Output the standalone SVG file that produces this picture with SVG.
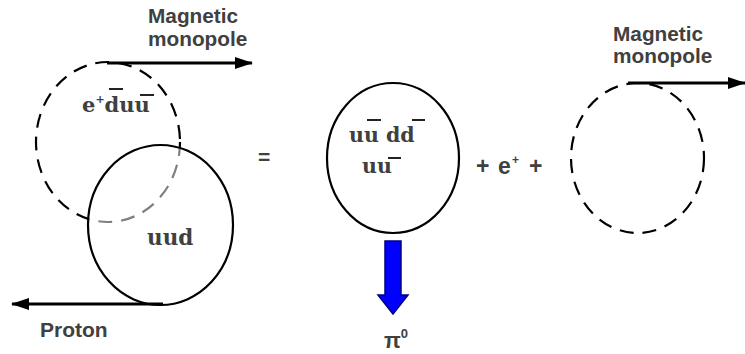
<svg xmlns="http://www.w3.org/2000/svg" width="745" height="354" viewBox="0 0 745 354">
<style>
.sans{font-family:"Liberation Sans",Arial,sans-serif;font-weight:bold;fill:#404040}
.serif{font-family:"DejaVu Serif","Liberation Serif",serif;font-weight:bold;fill:#404040}
.dash{fill:none;stroke:#000;stroke-width:2.2;stroke-dasharray:14 9}
.solid{stroke:#000;stroke-width:2.2}
.bar{stroke:#222;stroke-width:2}
.conn{stroke:#000;stroke-width:3;fill:none}
</style>
<defs>
<marker id="ah" markerUnits="userSpaceOnUse" viewBox="0 0 18 12" refX="17" refY="6" markerWidth="18" markerHeight="12" orient="auto">
<path d="M0,0 L18,6 L0,12 Z" fill="#000"/>
</marker>
</defs>
<rect width="745" height="354" fill="#fff"/>

<g id="monopole-left">
<ellipse class="dash" cx="108" cy="142" rx="72" ry="80"/>
<text class="sans" x="148" y="23" font-size="20.8">Magnetic</text>
<text class="sans" x="148" y="46" font-size="20.8">monopole</text>
<text class="serif" x="82" y="112" font-size="21">e<tspan font-size="11" dy="-9">+</tspan><tspan font-size="21" dy="9">duu</tspan></text>
<line class="bar" x1="109" y1="89" x2="123" y2="89"/>
<line class="bar" x1="140" y1="95" x2="154" y2="95"/>
</g>

<g id="proton">
<ellipse class="solid" cx="160.5" cy="225" rx="72.5" ry="80" fill="#fff" fill-opacity="0.5"/>
<text class="serif" x="147" y="245" font-size="21.5">uud</text>
<text class="sans" x="40" y="337" font-size="21">Proton</text>
</g>

<g id="equals">
<text class="sans" x="258" y="164" font-size="21">=</text>
</g>

<g id="meson-cloud">
<ellipse class="solid" cx="393" cy="158" rx="66" ry="75" fill="none"/>
<text class="serif" x="349" y="142" font-size="20.5">uu dd</text>
<text class="serif" x="362" y="173" font-size="20.5">uu</text>
<line class="bar" x1="367" y1="120" x2="381" y2="120"/>
<line class="bar" x1="412" y1="120" x2="425" y2="120"/>
<line class="bar" x1="388" y1="158" x2="401" y2="158"/>
</g>

<g id="positron">
<text class="sans" x="476" y="174" font-size="23">+ <tspan x="498">e</tspan><tspan x="512" font-size="12" dy="-10">+</tspan><tspan x="529" font-size="23" dy="10">+</tspan></text>
</g>

<g id="monopole-right">
<ellipse class="dash" cx="637.5" cy="158" rx="66.5" ry="75"/>
<text class="sans" x="613" y="41" font-size="20.8">Magnetic</text>
<text class="sans" x="613" y="63" font-size="20.8">monopole</text>
</g>

<g id="pion">
<polygon points="385,241 401,241 401,295 408,295 393,314 378,295 385,295" fill="#0000ff" stroke="#000080" stroke-width="1.5"/>
<text class="sans" x="384" y="348" font-size="22">π<tspan font-size="13" dy="-10">0</tspan></text>
</g>

<g id="connectors">
<line class="conn" x1="107" y1="63" x2="252" y2="63" marker-end="url(#ah)"/>
<line class="conn" x1="163" y1="304" x2="12" y2="304" marker-end="url(#ah)"/>
<line class="conn" x1="628" y1="83" x2="745" y2="83" marker-end="url(#ah)"/>
</g>
</svg>
